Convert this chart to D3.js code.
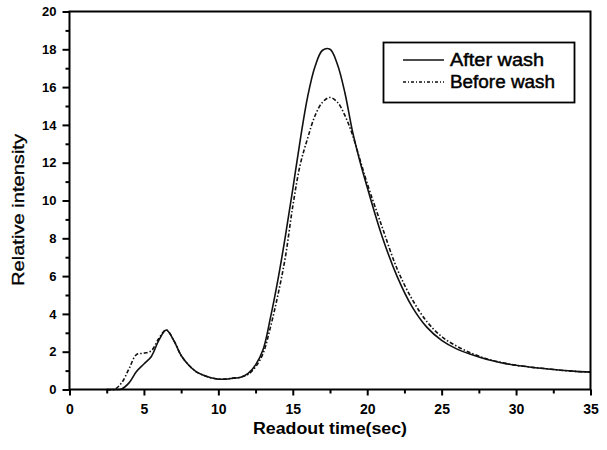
<!DOCTYPE html>
<html>
<head>
<meta charset="utf-8">
<script src="https://cdn.jsdelivr.net/npm/d3@7"></script>
<style>
  html, body { margin: 0; padding: 0; background: #fff; }
  svg { display: block; font-family: "Liberation Sans", Arial, sans-serif; }
</style>
</head>
<body>
<svg id="chart" width="607" height="450"></svg>
<script>
// ---- data ----
const time = [2.5, 3, 3.5, 4, 4.5, 5, 5.5, 6, 6.5, 7, 7.5, 8, 8.5, 9, 9.5, 10, 10.5, 11, 11.5, 12, 12.5,
              13, 13.5, 14, 14.5, 15, 15.5, 16, 16.5, 17, 17.5, 18, 18.5, 19, 19.5, 20,
              21, 22, 23, 24, 25, 26, 27, 28, 29, 30, 31, 32, 33, 34, 35];
const afterWash = [0, 0, 0.03, 0.35, 0.95, 1.35, 1.75, 2.6, 3.15, 2.6, 1.8, 1.3, 0.95, 0.75, 0.62, 0.55, 0.55, 0.6, 0.65, 0.85, 1.3,
                   2.1, 3.8, 5.8, 8.1, 10.6, 13.2, 15.5, 17.1, 17.95, 18.0, 17.2, 15.7, 13.7, 12.1, 10.7,
                   8.1, 6.0, 4.4, 3.3, 2.6, 2.15, 1.85, 1.6, 1.42, 1.28, 1.18, 1.1, 1.02, 0.96, 0.92];
const beforeWash = [0, 0, 0.35, 1.1, 1.85, 1.92, 2.05, 2.7, 3.15, 2.6, 1.8, 1.3, 0.95, 0.75, 0.62, 0.55, 0.55, 0.6, 0.65, 0.8, 1.2,
                    1.9, 3.3, 5.0, 7.0, 9.7, 11.9, 13.3, 14.5, 15.2, 15.45, 15.2, 14.5, 13.5, 12.2, 10.9,
                    8.6, 6.4, 4.8, 3.6, 2.8, 2.3, 1.92, 1.63, 1.43, 1.28, 1.18, 1.1, 1.02, 0.96, 0.92];
const seriesNames = ["After wash", "Before wash"];
const xTicks = [0, 5, 10, 15, 20, 25, 30, 35];
const yTicks = [0, 2, 4, 6, 8, 10, 12, 14, 16, 18, 20];
const xMinor = [2.5, 7.5, 12.5, 17.5, 22.5, 27.5, 32.5];
const yMinor = [1, 3, 5, 7, 9, 11, 13, 15, 17, 19];

// ---- layout ----
const svg = d3.select("#chart");
const pLeft = 69.5, pRight = 590.5, pTop = 11.5, pBottom = 389.5;
const x = d3.scaleLinear().domain([0, 35]).range([pLeft, pRight]);
const y = d3.scaleLinear().domain([0, 20]).range([pBottom, pTop]);

// curves
const line = d3.line().x(d => x(d[0])).y(d => y(Math.max(0, d[1]))).curve(d3.curveCatmullRom.alpha(0.5));
const g = svg.append("g");
g.append("path")
  .datum(time.map((t, i) => [t, beforeWash[i]]))
  .attr("fill", "none").attr("stroke", "#111").attr("stroke-width", 1.6)
  .attr("stroke-dasharray", "4,2,1.5,2")
  .attr("d", line);
g.append("path")
  .datum(time.map((t, i) => [t, afterWash[i]]))
  .attr("fill", "none").attr("stroke", "#111").attr("stroke-width", 1.6)
  .attr("d", line);

// frame
svg.append("rect").attr("x", pLeft).attr("y", pTop)
  .attr("width", pRight - pLeft).attr("height", pBottom - pTop)
  .attr("fill", "none").attr("stroke", "#000").attr("stroke-width", 2);

// x axis
const xAxis = svg.append("g").attr("transform", `translate(0,${pBottom})`)
  .call(d3.axisBottom(x).tickValues(xTicks).tickSize(6).tickPadding(9).tickFormat(d3.format("d")));
xAxis.select(".domain").remove();
xAxis.selectAll("line").attr("stroke", "#000").attr("stroke-width", 2);
xAxis.selectAll("text").attr("font-size", 14).attr("font-weight", "bold").attr("fill", "#000");
const xAxisMinor = svg.append("g").attr("transform", `translate(0,${pBottom})`)
  .call(d3.axisBottom(x).tickValues(xMinor).tickSize(4).tickFormat(""));
xAxisMinor.select(".domain").remove();
xAxisMinor.selectAll("line").attr("stroke", "#000").attr("stroke-width", 2);

// y axis
const yAxis = svg.append("g").attr("transform", `translate(${pLeft},0)`)
  .call(d3.axisLeft(y).tickValues(yTicks).tickSize(7).tickPadding(6).tickFormat(d3.format("d")));
yAxis.select(".domain").remove();
yAxis.selectAll("line").attr("stroke", "#000").attr("stroke-width", 2);
yAxis.selectAll("text").attr("font-size", 13).attr("font-weight", "bold").attr("fill", "#000");
const yAxisMinor = svg.append("g").attr("transform", `translate(${pLeft},0)`)
  .call(d3.axisLeft(y).tickValues(yMinor).tickSize(4).tickFormat(""));
yAxisMinor.select(".domain").remove();
yAxisMinor.selectAll("line").attr("stroke", "#000").attr("stroke-width", 2);

// axis titles
svg.append("text").attr("x", 330).attr("y", 434)
  .attr("text-anchor", "middle").attr("font-size", 16).attr("font-weight", "bold")
  .attr("textLength", 154).attr("lengthAdjust", "spacingAndGlyphs")
  .text("Readout time(sec)");
svg.append("text").attr("transform", "translate(24,210) rotate(-90)")
  .attr("text-anchor", "middle").attr("font-size", 16)
  .attr("stroke", "#000").attr("stroke-width", 0.3)
  .attr("textLength", 152).attr("lengthAdjust", "spacingAndGlyphs")
  .text("Relative intensity");

// legend
const lg = svg.append("g");
lg.append("rect").attr("x", 383.5).attr("y", 42.5).attr("width", 191).attr("height", 60)
  .attr("fill", "#fff").attr("stroke", "#000").attr("stroke-width", 1.8);
const legY = [60, 82];
seriesNames.forEach((name, i) => {
  const l = lg.append("line").attr("x1", 403).attr("x2", 444)
    .attr("y1", legY[i]).attr("y2", legY[i])
    .attr("stroke", "#111").attr("stroke-width", 1.4);
  if (i === 1) l.attr("stroke-dasharray", "3,2,1,2");
  lg.append("text").attr("x", 450).attr("y", legY[i] + 6)
    .attr("font-size", 17.5)
    .attr("stroke", "#000").attr("stroke-width", 0.45)
    .attr("textLength", i === 0 ? 94 : 105).attr("lengthAdjust", "spacingAndGlyphs")
    .text(name);
});
</script>
</body>
</html>
